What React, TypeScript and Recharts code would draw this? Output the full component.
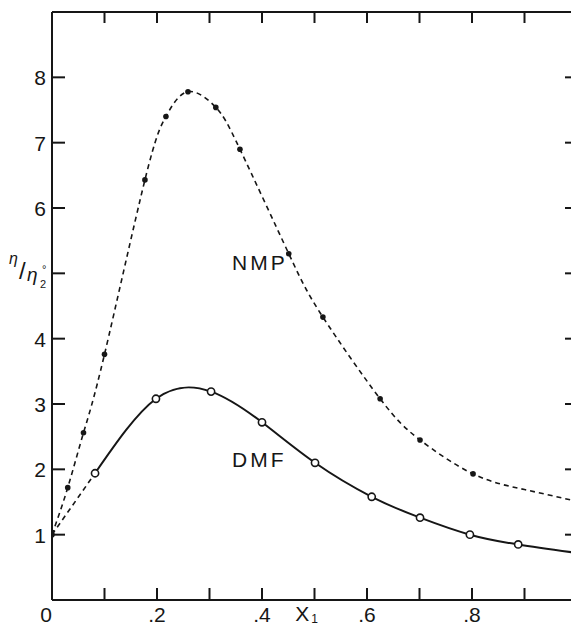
import { ComposedChart, Line, Scatter, XAxis, YAxis, ReferenceDot } from 'recharts';

// NMP (filled dots, dashed curve)
const nmpX = [0, 0.03, 0.06, 0.1, 0.177, 0.217, 0.259, 0.312, 0.358, 0.451, 0.516, 0.625, 0.701, 0.802];
const nmpY = [1.0, 1.72, 2.56, 3.76, 6.43, 7.4, 7.78, 7.54, 6.9, 5.3, 4.33, 3.08, 2.45, 1.93];
// dashed curve keeps going past the last measured point
const nmpTailX = [0.9, 1.0];
const nmpTailY = [1.69, 1.51];

// DMF (open circles, solid curve)
const dmfX = [0.082, 0.198, 0.303, 0.4, 0.501, 0.609, 0.701, 0.796, 0.888];
const dmfY = [1.94, 3.08, 3.19, 2.72, 2.1, 1.58, 1.26, 1.0, 0.85];
const dmfTailX = [1.0];
const dmfTailY = [0.72];

// pure solvent, both curves start here
const originX = 0;
const originY = 1;

const xTicks = [0, 0.1, 0.2, 0.3, 0.4, 0.5, 0.6, 0.7, 0.8, 0.9, 1.0];
const yTicks = [1, 2, 3, 4, 5, 6, 7, 8];
const xTickLabels: Record<string, string> = { '0': '0', '0.2': '.2', '0.4': '.4', '0.6': '.6', '0.8': '.8' };

const INK = '#161616';
const FONT = '"Liberation Sans", Arial, sans-serif';

const toPts = (xs: number[], ys: number[]) => xs.map((x, i) => ({ x, y: ys[i] }));

const nmpPoints = toPts(nmpX, nmpY);
const nmpCurve = nmpPoints.concat(toPts(nmpTailX, nmpTailY));
const dmfPoints = toPts(dmfX, dmfY);
const dmfCurve = dmfPoints.concat(toPts(dmfTailX, dmfTailY));
const dmfStart = [{ x: originX, y: originY }, dmfPoints[0]];

const LeftTick = ({ x, y, payload }: any) => {
    const v = payload.value;
    return (
        <g>
            <line x1={x} y1={y} x2={x + 13} y2={y} stroke={INK} strokeWidth={2} />
            {v === 5 ? (
                // η/η°₂ sits where the 5 would be
                <text fill={INK} fontFamily={FONT}>
                    <tspan x={9} y={y - 9} fontSize={16} fontStyle="italic">η</tspan>
                    <tspan x={19} y={y + 6} fontSize={24}>/</tspan>
                    <tspan x={27} y={y + 8} fontSize={19} fontStyle="italic">η</tspan>
                    <tspan x={40} y={y + 15} fontSize={11}>2</tspan>
                    <tspan x={42} y={y} fontSize={11}>°</tspan>
                </text>
            ) : (
                <text x={x - 6} y={y + 8} textAnchor="end" fontSize={21} fill={INK} fontFamily={FONT}>
                    {v}
                </text>
            )}
        </g>
    );
};

const RightTick = ({ x, y }: any) => (
    <line x1={x} y1={y} x2={x - 12} y2={y} stroke={INK} strokeWidth={2} />
);

const TopTick = ({ x, y }: any) => (
    <line x1={x} y1={y} x2={x} y2={y + 11} stroke={INK} strokeWidth={2} />
);

const BottomTick = ({ x, y, payload }: any) => {
    const v = Math.round(payload.value * 10) / 10;
    const label = xTickLabels[String(v)];
    return (
        <g>
            {v > 0 && <line x1={x} y1={y} x2={x} y2={y - 12} stroke={INK} strokeWidth={2} />}
            {label && (
                <text x={v === 0 ? x - 6 : x} y={y + 22} textAnchor="middle" fontSize={21} fill={INK} fontFamily={FONT}>
                    {label}
                </text>
            )}
            {v === 0.5 && (
                <text x={x - 8} y={y + 21} textAnchor="middle" fontSize={21} fill={INK} fontFamily={FONT}>
                    X<tspan fontSize={12} dy={2} dx={2}>1</tspan>
                </text>
            )}
        </g>
    );
};

const FilledDot = ({ cx, cy }: any) => <circle cx={cx} cy={cy} r={2.8} fill={INK} />;
const OpenDot = ({ cx, cy }: any) => <circle cx={cx} cy={cy} r={3.6} fill="#fff" stroke={INK} strokeWidth={1.6} />;

const curveLabel = (text: string) => ({ cx, cy }: any) => (
    <text x={cx} y={cy} fontSize={21} letterSpacing={3} fill={INK} fontFamily={FONT}>
        {text}
    </text>
);

export default function App() {
    return (
        <div style={{ position: 'fixed', left: 0, top: 0, width: 571, height: 626, overflow: 'hidden', background: '#fff' }}>
            <ComposedChart width={600} height={626} margin={{ top: 11, right: 0, bottom: 0, left: 0 }}>
                <XAxis
                    xAxisId="b"
                    type="number"
                    dataKey="x"
                    domain={[0, 1]}
                    ticks={xTicks}
                    interval={0}
                    height={26}
                    tickSize={0}
                    tickMargin={0}
                    tickLine={false}
                    tick={<BottomTick />}
                    axisLine={{ stroke: INK, strokeWidth: 2 }}
                    allowDataOverflow
                />
                <XAxis
                    xAxisId="t"
                    orientation="top"
                    type="number"
                    dataKey="x"
                    domain={[0, 1]}
                    ticks={xTicks.slice(1)}
                    interval={0}
                    height={1}
                    tickSize={0}
                    tickMargin={0}
                    tickLine={false}
                    tick={<TopTick />}
                    axisLine={{ stroke: INK, strokeWidth: 2 }}
                    allowDataOverflow
                />
                <YAxis
                    yAxisId="l"
                    type="number"
                    dataKey="y"
                    domain={[0, 9]}
                    ticks={yTicks}
                    interval={0}
                    width={52}
                    tickSize={0}
                    tickMargin={0}
                    tickLine={false}
                    tick={<LeftTick />}
                    axisLine={{ stroke: INK, strokeWidth: 2 }}
                    allowDataOverflow
                />
                <YAxis
                    yAxisId="r"
                    orientation="right"
                    type="number"
                    dataKey="y"
                    domain={[0, 9]}
                    ticks={yTicks}
                    interval={0}
                    width={23}
                    tickSize={0}
                    tickMargin={0}
                    tickLine={false}
                    tick={<RightTick />}
                    axisLine={{ stroke: INK, strokeWidth: 2 }}
                    allowDataOverflow
                />

                <Line
                    xAxisId="b"
                    yAxisId="l"
                    data={nmpCurve}
                    dataKey="y"
                    type="natural"
                    stroke={INK}
                    strokeWidth={1.6}
                    strokeDasharray="5 4"
                    dot={false}
                    activeDot={false}
                    isAnimationActive={false}
                />
                <Line
                    xAxisId="b"
                    yAxisId="l"
                    data={dmfStart}
                    dataKey="y"
                    type="linear"
                    stroke={INK}
                    strokeWidth={1.6}
                    strokeDasharray="5 4"
                    dot={false}
                    activeDot={false}
                    isAnimationActive={false}
                />
                <Line
                    xAxisId="b"
                    yAxisId="l"
                    data={dmfCurve}
                    dataKey="y"
                    type="natural"
                    stroke={INK}
                    strokeWidth={2}
                    dot={false}
                    activeDot={false}
                    isAnimationActive={false}
                />
                <Scatter xAxisId="b" yAxisId="l" data={nmpPoints} dataKey="y" shape={<FilledDot />} isAnimationActive={false} />
                <Scatter xAxisId="b" yAxisId="l" data={dmfPoints} dataKey="y" shape={<OpenDot />} isAnimationActive={false} />
                {/* invisible series so the top and right frame axes get drawn */}
                <Scatter xAxisId="t" yAxisId="r" data={[]} dataKey="y" isAnimationActive={false} />

                <ReferenceDot xAxisId="b" yAxisId="l" x={0.343} y={5.05} r={0} shape={curveLabel('NMP')} />
                <ReferenceDot xAxisId="b" yAxisId="l" x={0.343} y={2.04} r={0} shape={curveLabel('DMF')} />
            </ComposedChart>
        </div>
    );
}
